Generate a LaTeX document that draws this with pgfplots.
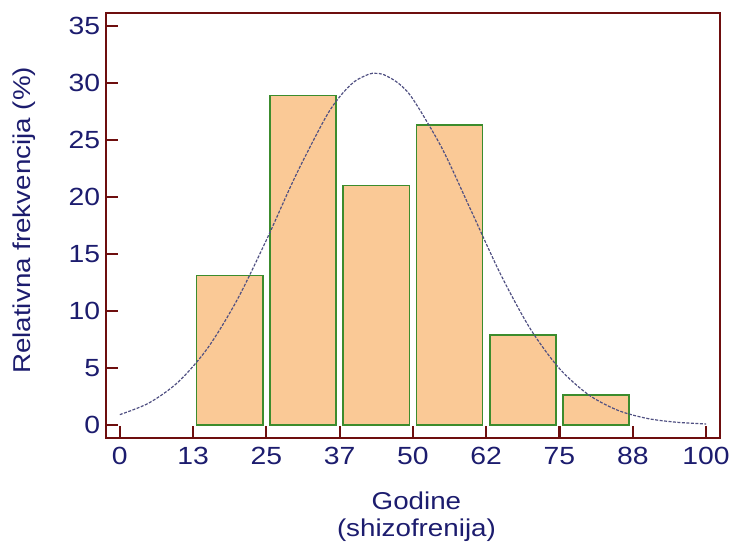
\documentclass[border=0pt]{standalone}
\usepackage{pgfplots}
\pgfplotsset{compat=1.18}
\usepackage{fontspec}
\setmainfont{Liberation Sans}[FakeStretch=1.14]
\definecolor{frame}{RGB}{110,14,14}
\definecolor{txt}{RGB}{28,28,110}
\definecolor{barfill}{RGB}{250,201,150}
\definecolor{bardraw}{RGB}{60,140,45}
\definecolor{curve}{RGB}{80,80,130}
\begin{document}
\begin{tikzpicture}
\begin{axis}[
 width=616bp, height=426bp, scale only axis,
 xmin=-2.4, xmax=102.4, ymin=-1.14, ymax=36.16,
 axis line style={frame, line width=2.2bp},
 every tick/.append style={frame, line width=2.2bp},
 major tick length=12bp,
 tick align=inside,
 xtick pos=left, ytick pos=left,
 xtick={0,12.5,25,37.5,50,62.5,75,87.5,100},
 xticklabels={0,13,25,37,50,62,75,88,100},
 ytick={0,5,...,35},
 /pgf/number format/assume math mode=true,
 tick label style={font=\fontsize{25}{28}\selectfont, text=txt},
 xticklabel style={yshift=-6bp},
 yticklabel style={xshift=-2bp},
 label style={font=\fontsize{24.5}{27}\selectfont, text=txt},
 xlabel={Godine\\(shizofrenija)},
 xlabel style={align=center, at={(axis description cs:0.5057,0)}, anchor=north, inner sep=0pt, yshift=-54bp},
 ylabel={Relativna frekvencija (\%)},
 ylabel style={at={(axis description cs:-0.1515,0.512)}, anchor=north, inner sep=0pt},
]
\addplot[ybar, bar width=11.3, fill=barfill, draw=bardraw, line width=1.6bp]
 coordinates {(18.75,13.1)(31.25,28.9)(43.75,21.0)(56.25,26.3)(68.75,7.9)(81.25,2.6)};
\addplot[curve, line width=1.2bp, dash pattern=on 3bp off 1.5bp, smooth, no markers]
 coordinates {(0,0.90)(5,1.93)(10,3.78)(15,6.75)(20,10.96)(25,16.22)(30,21.88)(35,26.89)(37.5,28.80)(40,30.13)(42.5,30.79)(43.6,30.86)(45,30.75)(47.5,30.00)(50,28.60)(55,24.24)(60,18.72)(65,13.17)(70,8.45)(75,4.94)(80,2.63)(85,1.27)(90,0.56)(95,0.23)(100,0.08)};
\end{axis}
\useasboundingbox ([shift={(-106bp,-106bp)}]current axis.south west) rectangle ++(733bp,545bp);
\end{tikzpicture}
\end{document}
